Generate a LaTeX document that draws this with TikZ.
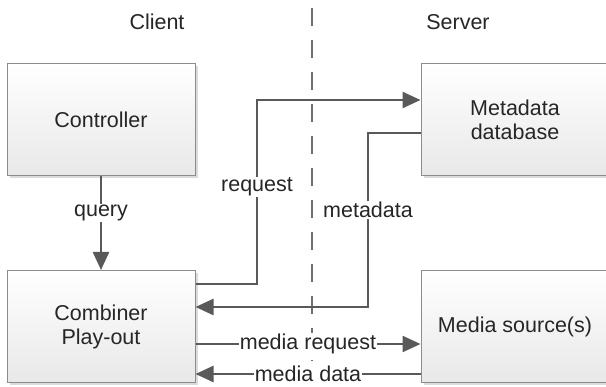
\documentclass[tikz,border=0pt]{standalone}
\usepackage{fontspec}
\setmainfont{Liberation Sans}
\usetikzlibrary{arrows.meta,shadows}
\definecolor{boxline}{HTML}{8C8C8C}
\definecolor{wire}{HTML}{595959}
\definecolor{divider}{HTML}{6E6E6E}
\definecolor{ink}{HTML}{262626}
\tikzset{
  block/.style={draw=boxline, line width=1pt, top color=white, bottom color=black!9,
    minimum width=188pt, minimum height=112pt, inner sep=0pt, align=center,
    text=ink, font=\fontsize{21.5}{24}\selectfont,
    drop shadow={shadow xshift=3pt, shadow yshift=-3pt, fill=black!14, opacity=1}},
  conn/.style={draw=wire, line width=2.4pt},
  arr/.style={conn, -{Triangle[length=18pt,width=16pt]}},
  tag/.style={fill=white, inner sep=1pt, text=ink, font=\fontsize{21.5}{24}\selectfont},
  heading/.style={text=ink, font=\fontsize{21.5}{24}\selectfont},
}
\begin{document}
\begin{tikzpicture}[x=1pt,y=-1pt]
\useasboundingbox[fill=white] (0,0) rectangle (606,387);

% client / server divider
\draw[divider, line width=2.2pt, dash pattern=on 18pt off 14pt] (312,8) -- (312,361);
\node[heading] (client) at (157,22) {Client};
\node[heading] (server) at (458,22) {Server};

% blocks
\node[block] (ctrl)  at (101,119.5) {Controller};
\node[block] (comb)  at (101,326.5) {Combiner\\Play-out};
\node[block] (meta)  at (515,119.5) {Metadata\\database};
\node[block] (media) at (515,326.5) {Media source(s)};

% query
\draw[arr] (ctrl.south) -- (comb.north);
\node[tag] (qlab) at (101,213) {query};

% metadata request / reply
\draw[arr] (comb.east |- 0,284) -| (257,100) -- (meta.west |- 0,100);
\node[tag] (rlab) at (257,187) {request};
\draw[arr] (meta.west |- 0,133) -| (368,307) -- (comb.east |- 0,307);
\node[tag] (mlab) at (368,210) {metadata};

% media exchange
\draw[arr] (comb.east |- 0,344) -- node[tag] (mrq) {media request} (media.west |- 0,344);
\draw[arr] (media.west |- 0,374) -- node[tag] (mdt) {media data} (comb.east |- 0,374);
\end{tikzpicture}
\end{document}
